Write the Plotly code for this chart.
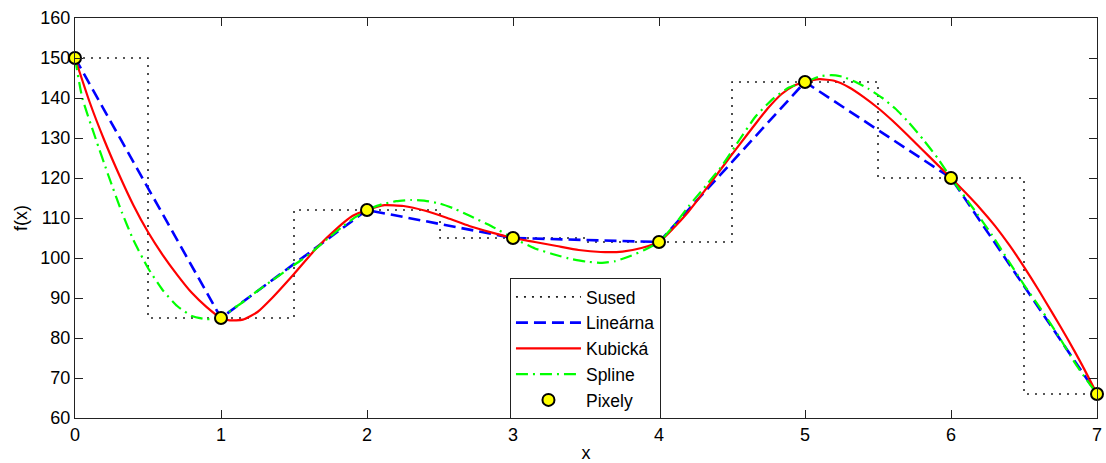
import plotly.graph_objects as go

# Pixel samples
px_x = [0, 1, 2, 3, 4, 5, 6, 7]
px_y = [150, 85, 112, 105, 104, 144, 120, 66]

# Cubic interpolation curve
cub_x = [0, 0.1, 0.2, 0.3, 0.4, 0.5, 0.6, 0.7, 0.8, 0.9, 1.0,
         1.06, 1.15, 1.25, 1.35, 1.5, 1.65, 1.8, 1.9, 2.0,
         2.12, 2.25, 2.4, 2.55, 2.7, 2.85, 3.0,
         3.15, 3.3, 3.45, 3.6, 3.75, 3.88, 4.0,
         4.1, 4.2, 4.3, 4.43, 4.55, 4.66, 4.75, 4.84, 4.92, 5.0,
         5.1, 5.2, 5.3, 5.4, 5.5, 5.6, 5.7, 5.8, 5.9, 6.0,
         6.1, 6.2, 6.3, 6.4, 6.5, 6.6, 6.7, 6.8, 6.9, 7.0]
cub_y = [150, 139, 129.5, 121, 113.2, 106.5, 100.8, 95.8, 91.3, 87.8, 85,
         84.4, 84.6, 86.5, 90, 96, 102.3, 107.6, 110.5, 112,
         113.2, 113, 111.8, 110, 108, 106.4, 105,
         104, 103, 102, 101.5, 101.6, 102.5, 104,
         107.5, 111.5, 116.2, 122.5, 128.3, 133.5, 137.6, 141, 143, 144,
         144.7, 144.3, 142.7, 140.3, 137.5, 134.3, 130.8, 127.2, 123.6, 120,
         116.3, 112.4, 108.1, 103.2, 97.8, 92.0, 85.9, 79.7, 73.1, 66]

# Spline interpolation curve
spl_x = [0, 0.05, 0.14, 0.23, 0.32, 0.4, 0.5, 0.6, 0.7, 0.8, 0.9, 1.0,
         1.05, 1.15, 1.25, 1.35, 1.46, 1.55, 1.64, 1.73, 1.83, 1.92, 2.0,
         2.1, 2.2, 2.3, 2.4, 2.5, 2.6, 2.7, 2.85, 3.0,
         3.15, 3.27, 3.38, 3.5, 3.61, 3.7, 3.79, 3.9, 4.0,
         4.1, 4.2, 4.31, 4.43, 4.55, 4.66, 4.78, 4.89, 5.0,
         5.1, 5.18, 5.26, 5.34, 5.43, 5.53, 5.62, 5.71, 5.81, 5.91, 6.0,
         6.16, 6.28, 6.39, 6.5, 6.62, 6.74, 6.85, 6.93, 7.0]
spl_y = [150, 140, 130, 120.5, 111.5, 104.5, 97.5, 92, 88, 85.5, 84.7, 85,
         86.4, 89, 91.8, 94.4, 97.2, 99.5, 102, 104.8, 107.8, 110.2, 112,
         113.4, 114.2, 114.5, 114.3, 113.6, 112.3, 110.6, 108, 105,
         102.4, 101, 99.9, 99.1, 98.8, 99.2, 100.3, 102, 104,
         108, 112.8, 117.6, 123, 129.5, 135.3, 139.8, 142.6, 144,
         145.4, 145.7, 145.3, 144.1, 142.4, 140, 137.3, 133.9, 129.6, 124.9, 120,
         112, 105.8, 99.5, 93.3, 87, 80.3, 73.7, 69.5, 66]

names = ["Sused", "Lineárna", "Kubická", "Spline", "Pixely"]
x_ticks = [0, 1, 2, 3, 4, 5, 6, 7]
y_ticks = [60, 70, 80, 90, 100, 110, 120, 130, 140, 150, 160]

FONT = "Liberation Sans, Arial, Helvetica, sans-serif"
AXC = "#222222"

fig = go.Figure()
fig.add_trace(go.Scatter(x=px_x, y=px_y, mode="lines", name=names[0], line_shape="hvh",
                         line=dict(color="#222222", width=1.6, dash="2px,6px")))
fig.add_trace(go.Scatter(x=px_x, y=px_y, mode="lines", name=names[1],
                         line=dict(color="#0000ff", width=2.6, dash="12px,6px")))
fig.add_trace(go.Scatter(x=cub_x, y=cub_y, mode="lines", name=names[2], line_shape="spline",
                         line=dict(color="#ff0000", width=2.2, smoothing=0.5)))
fig.add_trace(go.Scatter(x=spl_x, y=spl_y, mode="lines", name=names[3], line_shape="spline",
                         line=dict(color="#00ff00", width=2.2, dash="12px,5px,2px,5px", smoothing=0.5)))
fig.add_trace(go.Scatter(x=px_x, y=px_y, mode="markers", name=names[4], cliponaxis=False,
                         marker=dict(color="#ffff00", size=12, line=dict(color="black", width=2))))

axis_common = dict(showline=True, linecolor=AXC, linewidth=1, mirror="ticks",
                   ticks="inside", ticklen=8, tickcolor=AXC, showgrid=False, zeroline=False,
                   automargin=False, tickfont=dict(family=FONT, size=18, color="black"))

fig.update_layout(
    width=1106, height=463,
    margin=dict(l=75, r=9, t=18, b=45),
    paper_bgcolor="white", plot_bgcolor="white",
    font=dict(family=FONT, size=18, color="black"),
    xaxis=dict(range=[0, 7], tickvals=x_ticks, title=dict(text="x", font=dict(size=18), standoff=8),
               **axis_common),
    yaxis=dict(range=[60, 160], tickvals=y_ticks, title=dict(text="f(x)", font=dict(size=18), standoff=8),
               **axis_common),
    legend=dict(x=0.4256, y=0.35, xanchor="left", yanchor="top", bgcolor="white",
                bordercolor=AXC, borderwidth=1, font=dict(family=FONT, size=17.5),
                itemwidth=65, tracegroupgap=0),
    showlegend=True,
)

fig.write_html("out.html", config={"displayModeBar": False},
               post_script="document.body.style.margin='0';document.body.style.overflow='hidden';")
